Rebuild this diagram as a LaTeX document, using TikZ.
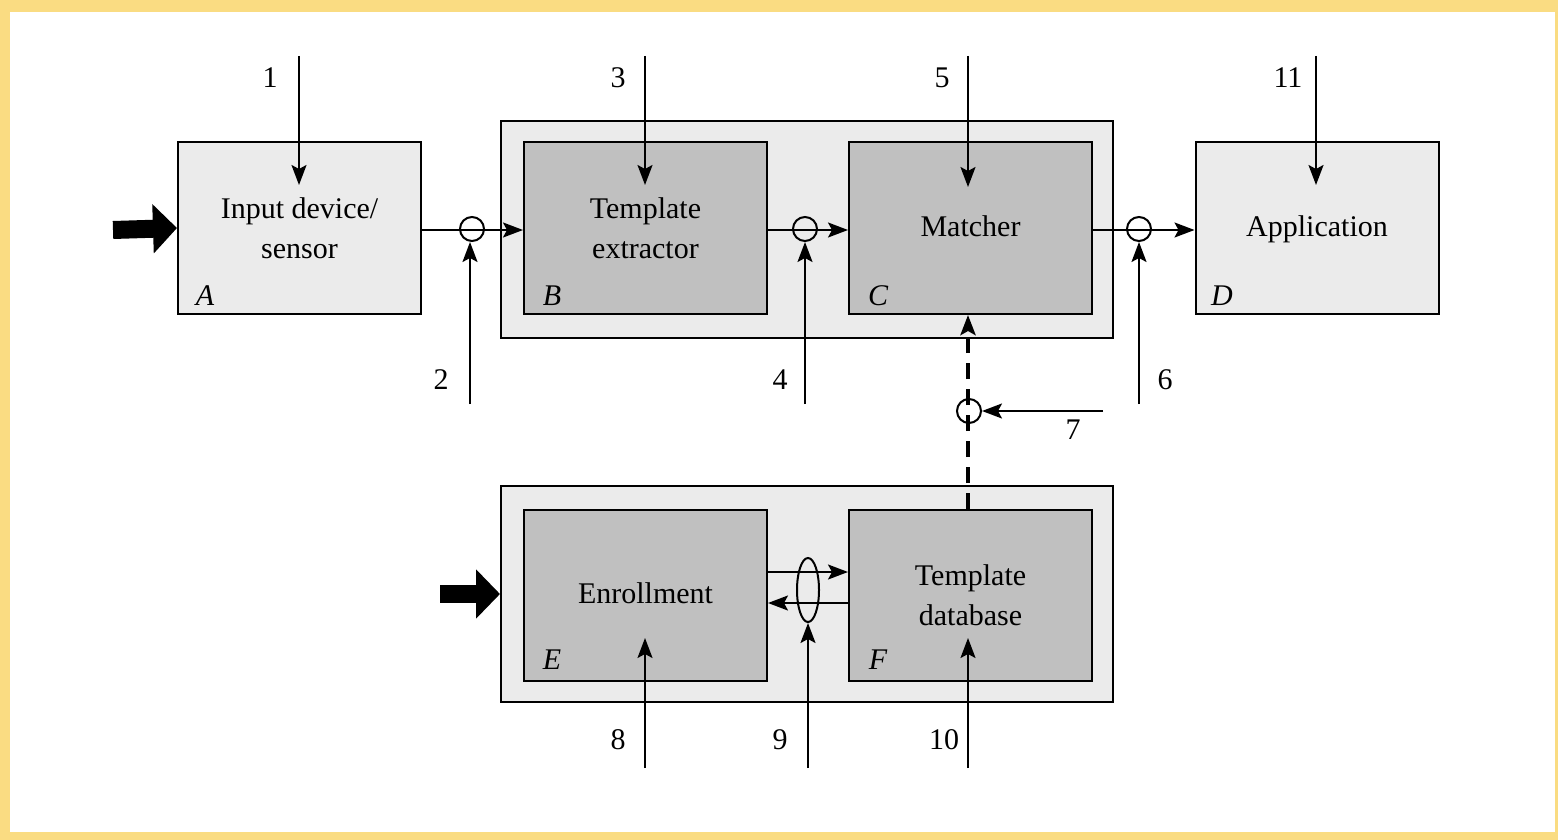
\documentclass[tikz,border=0pt]{standalone}
\usepackage{fontspec}
\setmainfont{Liberation Serif}
\usetikzlibrary{arrows.meta,shapes.geometric}
\definecolor{frameyellow}{HTML}{FADC82}
\definecolor{lightbox}{HTML}{EBEBEB}
\definecolor{darkbox}{HTML}{C0C0C0}
\begin{document}
\begin{tikzpicture}[x=1pt,y=-1pt,
  font=\fontsize{30}{40}\selectfont,
  lightblock/.style={draw=black, line width=2pt, fill=lightbox, minimum width=243pt, minimum height=172pt, inner sep=0pt, align=center},
  darkblock/.style={lightblock, fill=darkbox},
  group/.style={draw=black, line width=2pt, fill=lightbox, inner sep=0pt},
  conn/.style={line width=2pt, -{Stealth[length=20pt,width=15pt,inset=4pt]}},
  tap/.style={draw=black, line width=2pt, fill=none, circle, minimum size=24pt, inner sep=0pt},
  bigarrow/.style={line width=18pt, -{Triangle[length=24pt,width=48pt]}},
  letter/.style={font=\fontsize{30}{34}\selectfont\itshape},
  num/.style={font=\fontsize{30}{34}\selectfont}]
% frame
\fill[frameyellow] (0,0) rectangle (1558,840);
\fill[white] (10,12) rectangle (1555,832);
\useasboundingbox (0,0) rectangle (1558,840);
% groups
\node[group, minimum width=612pt, minimum height=217pt] (G1) at (807,229.5) {};
\node[group, minimum width=612pt, minimum height=216pt] (G2) at (807,594) {};
% blocks
\node[lightblock] (A) at (299.5,228) {Input device/\\sensor};
\node[darkblock]  (B) at (645.5,228) {Template\\extractor};
\node[darkblock]  (C) at (970.5,228) {\strut Matcher};
\node[lightblock] (D) at (1317,228) {\strut Application};
\node[darkblock, minimum height=171pt] (E) at (645.5,595.5) {\strut Enrollment};
\node[darkblock, minimum height=171pt] (F) at (970.5,595.5) {Template\\database};
% letters
\node[letter] (la) at (205,296) {A};
\node[letter] (lb) at (552,296) {B};
\node[letter] (lc) at (878,296) {C};
\node[letter] (ld) at (1222,296) {D};
\node[letter] (le) at (552,660) {E};
\node[letter] (lf) at (878,660) {F};
% big input arrows
\coordinate (inA) at (113,230);
\coordinate (inE) at (440,594);
\draw[bigarrow] (inA) -- (A.west);
\draw[bigarrow] (inE) -- (G2.west);
% taps on the main line
\node[tap] (t2) at (472,229) {};
\node[tap] (t4) at (805,229) {};
\node[tap] (t6) at (1139,229) {};
\node[tap] (t7) at (969,411) {};
\node[draw=black, line width=2pt, ellipse, minimum width=22pt, minimum height=64pt, inner sep=0pt] (t9) at (808,590) {};
% main connectors
\draw[conn] (A.east |- 0,230) -- (B.west |- 0,230);
\draw[conn] (B.east |- 0,230) -- (C.west |- 0,230);
\draw[conn] (C.east |- 0,230) -- (D.west |- 0,230);
\draw[conn] (E.east |- 0,572) -- (F.west |- 0,572);
\draw[conn] (F.west |- 0,603) -- (E.east |- 0,603);
\draw[line width=4pt, dash pattern=on 16pt off 10pt, -{Stealth[length=20pt,width=15pt,inset=4pt]}] (F.north -| 968,0) -- (C.south -| 968,0);
% attack point arrows
\coordinate (p1) at (299,56);   \coordinate (e1) at (299,185);
\coordinate (p3) at (645,56);   \coordinate (e3) at (645,185);
\coordinate (p5) at (968,56);   \coordinate (e5) at (968,187);
\coordinate (p11) at (1316,56); \coordinate (e11) at (1316,185);
\coordinate (p2) at (470,404);
\coordinate (p4) at (805,404);
\coordinate (p6) at (1139,404);
\coordinate (p7) at (1103,411);
\coordinate (p8) at (645,768);  \coordinate (e8) at (645,638);
\coordinate (p9) at (808,768);
\coordinate (p10) at (968,768); \coordinate (e10) at (968,638);
\draw[conn] (p1) -- (e1);
\draw[conn] (p3) -- (e3);
\draw[conn] (p5) -- (e5);
\draw[conn] (p11) -- (e11);
\draw[conn] (p2) -- (p2 |- t2.south);
\draw[conn] (p4) -- (t4.south);
\draw[conn] (p6) -- (t6.south);
\draw[conn] (p7) -- (t7.east);
\draw[conn] (p8) -- (e8);
\draw[conn] (p9) -- (t9.south);
\draw[conn] (p10) -- (e10);
% numbers
\node[num] (n1) at (270,78) {1};
\node[num] (n3) at (618,78) {3};
\node[num] (n5) at (942,78) {5};
\node[num] (n11) at (1288,78) {11};
\node[num] (n2) at (441,380) {2};
\node[num] (n4) at (780,380) {4};
\node[num] (n6) at (1165,380) {6};
\node[num] (n7) at (1073,430) {7};
\node[num] (n8) at (618,740) {8};
\node[num] (n9) at (780,740) {9};
\node[num] (n10) at (944,740) {10};
\end{tikzpicture}
\end{document}
